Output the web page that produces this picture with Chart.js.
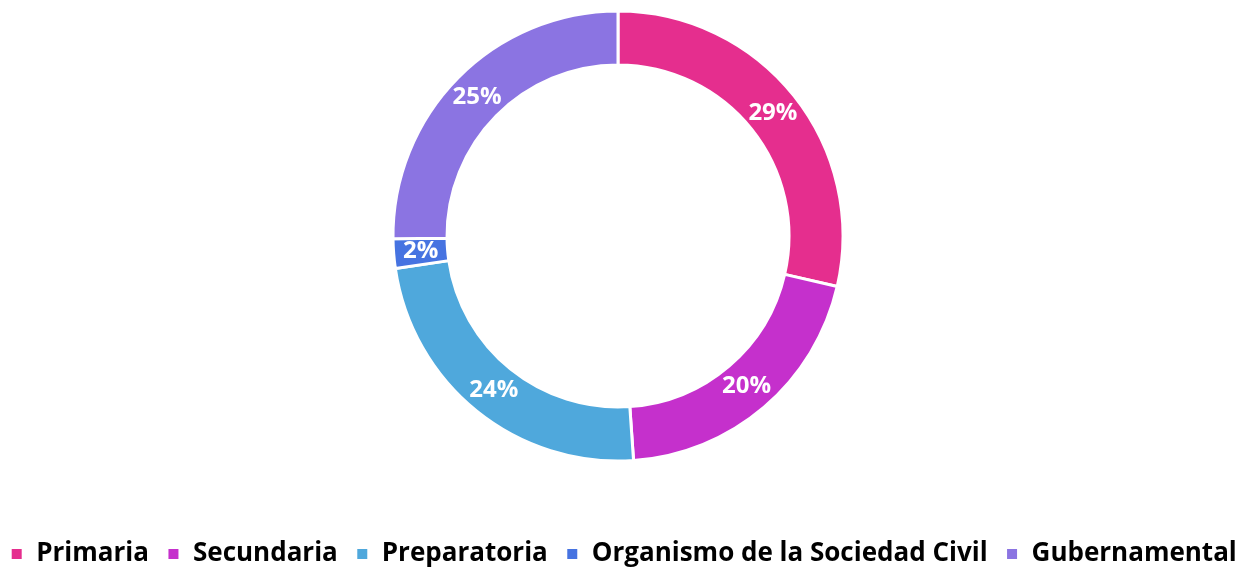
<!DOCTYPE html>
<html>
<head>
<meta charset="utf-8">
<script src="https://cdn.jsdelivr.net/npm/chart.js@4.4.0/dist/chart.umd.min.js"></script>
<style>
  html, body { margin: 0; padding: 0; background: #fff; }
  #wrap { width: 1255px; height: 568px; }
</style>
</head>
<body>
<div id="wrap"><canvas id="chart" width="1255" height="568"></canvas></div>
<script>
// Data
const categories = ['Primaria', 'Secundaria', 'Preparatoria', 'Organismo de la Sociedad Civil', 'Gubernamental'];
const shares = [28.6, 20.3, 23.8, 2.1, 25.2];
const sliceColors = ['#E52E8E', '#C530CC', '#4FA8DC', '#4673E1', '#8B74E2'];

const FONT = '"Open Sans", Lato, sans-serif';

// --- percent labels in the middle of each slice ---
const sliceLabels = {
  id: 'sliceLabels',
  afterDatasetsDraw(chart) {
    const ctx = chart.ctx;
    const meta = chart.getDatasetMeta(0);
    const total = shares.reduce((a, b) => a + b, 0);
    ctx.save();
    ctx.fillStyle = '#fff';
    ctx.font = 'bold 24px ' + FONT;
    ctx.textAlign = 'center';
    ctx.textBaseline = 'middle';
    meta.data.forEach((arc, i) => {
      const p = arc.tooltipPosition();
      ctx.fillText(Math.round(shares[i] / total * 100) + '%', p.x, p.y);
    });
    ctx.restore();
  }
};

// --- ring sits high with a big gap above the legend: pin the chart area ---
const ringArea = {
  id: 'ringArea',
  afterLayout(chart) {
    const a = chart.chartArea;
    a.left = 394; a.right = 842;
    a.top = 12; a.bottom = 460;
    a.width = a.right - a.left;
    a.height = a.bottom - a.top;
  }
};

new Chart(document.getElementById('chart'), {
  type: 'doughnut',
  data: {
    labels: categories,
    datasets: [{
      data: shares,
      backgroundColor: sliceColors,
      borderColor: '#fff',
      borderWidth: 3,
      radius: 225
    }]
  },
  options: {
    responsive: false,
    animation: false,
    cutout: '76%',
    // negative side padding keeps the wide legend on a single row
    layout: { padding: { top: 0, bottom: -9, left: -14, right: -6 } },
    plugins: {
      tooltip: { enabled: false },
      legend: {
        position: 'bottom',
        labels: {
          boxWidth: 13,
          boxHeight: 13,
          padding: 18,
          color: '#000',
          font: { family: FONT, size: 26, weight: 'bold' }
        }
      }
    }
  },
  plugins: [ringArea, sliceLabels]
});
</script>
</body>
</html>
